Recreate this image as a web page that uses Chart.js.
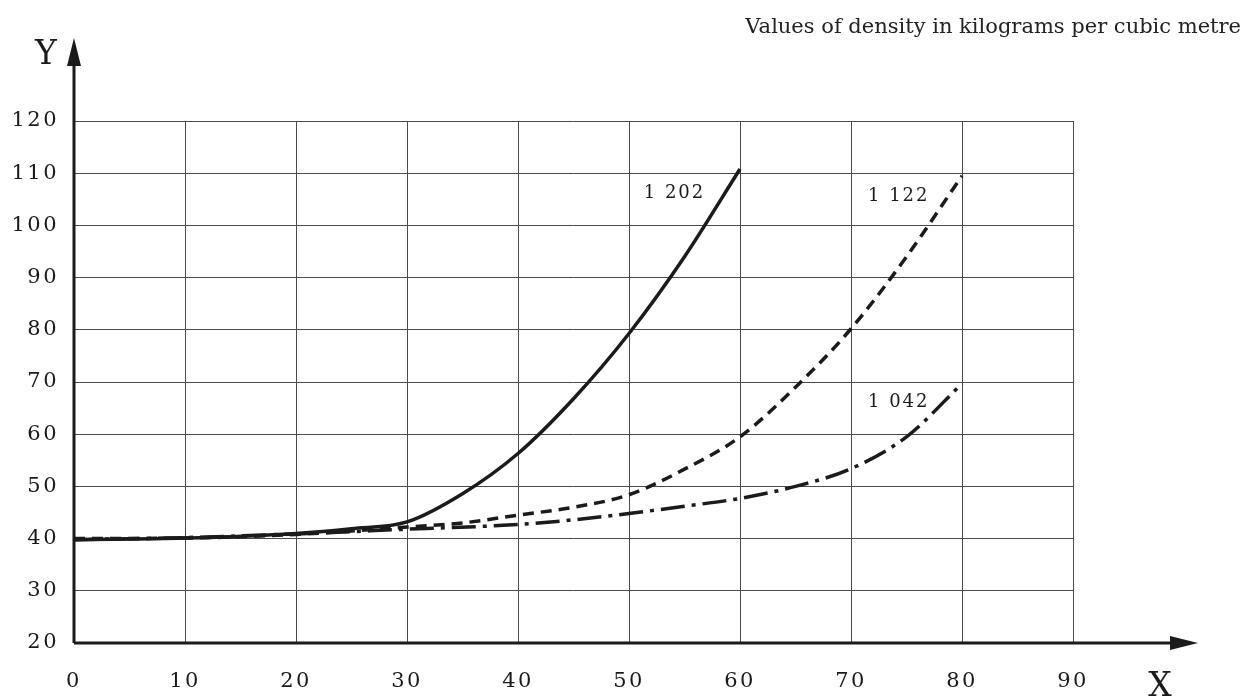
<!DOCTYPE html>
<html lang="en">
<head>
    <meta charset="UTF-8">
    <title>Density curves</title>
    <script src="https://cdn.jsdelivr.net/npm/chart.js"></script>
    <style>
        html, body { margin: 0; padding: 0; background: #fff; }
        #wrap { width: 1250px; height: 700px; }
    </style>
</head>
<body>
    <div id="wrap"><canvas id="chart" width="1250" height="700"></canvas></div>

    <script>
        // values
        const seriesNames = ['1 202', '1 122', '1 042'];

        const x1202 = [0, 10, 20, 25, 30, 35, 40, 45, 50, 55, 60];
        const y1202 = [39.8, 40.1, 41, 41.9, 43.2, 48.6, 56.3, 66.8, 79.3, 94, 110.8];

        const x1122 = [0, 10, 20, 30, 35, 40, 45, 50, 55, 60, 65, 70, 75, 80];
        const y1122 = [40, 40.1, 40.8, 42.2, 43, 44.5, 46, 48.4, 53.3, 59.5, 69, 80.2, 94, 109.5];

        const x1042 = [0, 10, 20, 30, 40, 45, 50, 55, 60, 65, 70, 75, 80];
        const y1042 = [39.8, 40.2, 40.9, 41.8, 42.7, 43.6, 44.8, 46.2, 47.7, 50, 53.4, 59.5, 69.7];

        const xTicks = [0, 10, 20, 30, 40, 50, 60, 70, 80, 90];
        const yTicks = [20, 30, 40, 50, 60, 70, 80, 90, 100, 110, 120];

        const titleText = 'Values of density in kilograms per cubic metre';

        // where the curve names sit, in data units
        const nameSpots = [[54.1, 106.2], [74.3, 105.6], [74.3, 66.2]];

        const serif = "'DejaVu Serif', 'Liberation Serif', serif";
        const ink = '#1c1a1a';

        const toPoints = (xs, ys) => xs.map((x, i) => ({ x: x, y: ys[i] }));

        const drawings = {
            id: 'drawings',
            beforeDraw(chart) {
                chart.ctx.letterSpacing = '2.5px';
            },
            afterDraw(chart) {
                const ctx = chart.ctx;
                const xs = chart.scales.x;
                const ys = chart.scales.y;
                const x0 = xs.getPixelForValue(0);
                const y0 = ys.getPixelForValue(20);

                ctx.save();
                // axes with arrows
                ctx.strokeStyle = ink;
                ctx.fillStyle = ink;
                ctx.lineWidth = 3;
                ctx.beginPath();
                ctx.moveTo(x0, y0);
                ctx.lineTo(x0, 60);
                ctx.moveTo(x0, y0);
                ctx.lineTo(1175, y0);
                ctx.stroke();

                ctx.beginPath();
                ctx.moveTo(x0, 38);
                ctx.lineTo(x0 - 7, 66);
                ctx.lineTo(x0 + 7, 66);
                ctx.closePath();
                ctx.fill();

                ctx.beginPath();
                ctx.moveTo(1198, y0);
                ctx.lineTo(1170, y0 - 7);
                ctx.lineTo(1170, y0 + 7);
                ctx.closePath();
                ctx.fill();

                // axis letters
                ctx.letterSpacing = '0px';
                ctx.font = '33px ' + serif;
                ctx.textAlign = 'center';
                ctx.textBaseline = 'alphabetic';
                ctx.fillText('Y', 46, 64);
                ctx.fillText('X', 1160, 696);

                // title
                ctx.font = '21px ' + serif;
                ctx.textAlign = 'right';
                ctx.fillStyle = '#222';
                ctx.fillText(titleText, 1241, 33);

                // curve names
                ctx.font = '18px ' + serif;
                ctx.letterSpacing = '2px';
                ctx.textAlign = 'center';
                ctx.textBaseline = 'middle';
                ctx.fillStyle = ink;
                seriesNames.forEach((name, i) => {
                    ctx.fillText(name, xs.getPixelForValue(nameSpots[i][0]), ys.getPixelForValue(nameSpots[i][1]));
                });
                ctx.restore();
            }
        };

        const lineStyle = {
            borderColor: ink,
            borderWidth: 3.5,
            pointRadius: 0,
            fill: false,
            cubicInterpolationMode: 'monotone',
            borderCapStyle: 'butt'
        };

        new Chart(document.getElementById('chart'), {
            type: 'line',
            data: {
                datasets: [
                    Object.assign({ label: seriesNames[0], data: toPoints(x1202, y1202) }, lineStyle),
                    Object.assign({ label: seriesNames[1], data: toPoints(x1122, y1122), borderDash: [11, 7] }, lineStyle),
                    Object.assign({ label: seriesNames[2], data: toPoints(x1042, y1042), borderDash: [24, 7, 4, 7] }, lineStyle)
                ]
            },
            options: {
                responsive: false,
                animation: false,
                layout: { padding: { left: 0, top: 121, right: 177, bottom: 0 } },
                plugins: {
                    legend: { display: false },
                    tooltip: { enabled: false }
                },
                scales: {
                    x: {
                        type: 'linear',
                        min: 0,
                        max: 90,
                        afterBuildTicks: (s) => { s.ticks = xTicks.map(v => ({ value: v })); },
                        afterFit: (s) => { s.height = 57; },
                        grid: { color: '#4a4a4a', lineWidth: 1, drawTicks: false },
                        border: { display: false },
                        ticks: {
                            padding: 26,
                            color: '#1a1a1a',
                            font: { family: serif, size: 21 }
                        }
                    },
                    y: {
                        min: 20,
                        max: 120,
                        afterBuildTicks: (s) => { s.ticks = yTicks.map(v => ({ value: v })); },
                        afterFit: (s) => { s.width = 74; },
                        grid: { color: '#4a4a4a', lineWidth: 1, drawTicks: false },
                        border: { display: false },
                        ticks: {
                            padding: 15,
                            color: '#1a1a1a',
                            font: { family: serif, size: 21 }
                        }
                    }
                }
            },
            plugins: [drawings]
        });
    </script>
</body>
</html>
